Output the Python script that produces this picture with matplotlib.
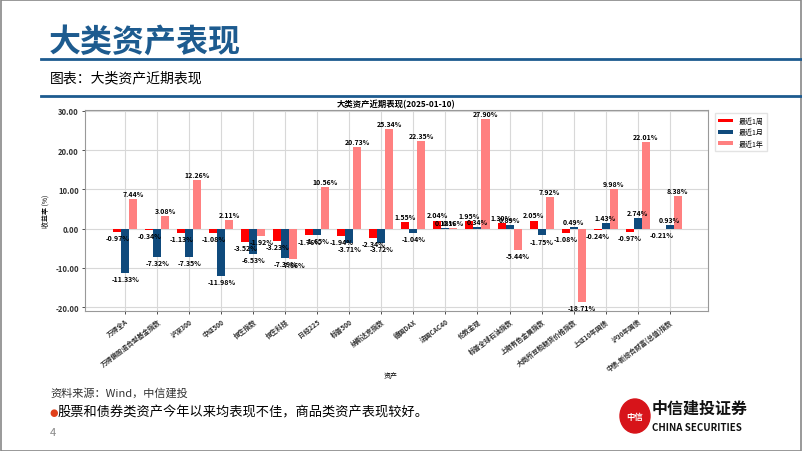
import numpy as np
import matplotlib.pyplot as plt
from matplotlib.patches import Ellipse, Rectangle

plt.rcParams['font.family'] = ['Noto Sans CJK SC', 'DejaVu Sans']
plt.rcParams['axes.unicode_minus'] = False

assets = ['万得全A', '万得偏股混合型基金指数', '沪深300', '中证500', '恒生指数', '恒生科技',
          '日经225', '标普500', '纳斯达克指数', '德国DAX', '法国CAC40', '伦敦金现',
          '标普全球石油指数', '上期有色金属指数', '大商所豆粕期货价格指数', '上证10年国债',
          '沪30年国债', '中债-新综合财富(总值)指数']
week = [-0.97, -0.34, -1.13, -1.08, -3.52, -3.23, -1.76, -1.94, -2.34, 1.55, 2.04, 1.95,
        1.30, 2.05, -1.08, -0.24, -0.97, -0.21]
month = [-11.33, -7.32, -7.35, -11.98, -6.53, -7.39, -1.65, -3.71, -3.72, -1.04, 0.18, 0.34,
         0.89, -1.75, 0.49, 1.43, 2.74, 0.93]
year = [7.44, 3.08, 12.26, 2.11, -1.92, -7.66, 10.56, 20.73, 25.34, 22.35, 0.16, 27.90,
        -5.44, 7.92, -18.71, 9.98, 22.01, 8.38]
series_names = ['最近1周', '最近1月', '最近1年']

W, H = 802, 452
fig = plt.figure(figsize=(W / 100, H / 100), dpi=100)

# slide frame and header
fig.patches.append(Rectangle((0.5 / W, 0.5 / H), 1 - 1.5 / W, 1 - 1.5 / H, transform=fig.transFigure,
                             fill=False, edgecolor='#888888', linewidth=1.2))
fig.text(49 / W, 1 - 43 / H, '大类资产表现', fontsize=23, fontweight='bold', color='#1d5b8f',
         va='center', ha='left')
fig.add_artist(plt.Line2D([41 / W, 1], [1 - 60 / H] * 2, color='#1d5b8f', linewidth=2))
fig.text(50 / W, 1 - 78 / H, '图表：大类资产近期表现', fontsize=10, va='center', ha='left')
fig.add_artist(plt.Line2D([41 / W, 1], [1 - 97 / H] * 2, color='#1d5b8f', linewidth=2))

# chart
ax = fig.add_axes([85 / W, (H - 312) / H, (708 - 85) / W, (312 - 111) / H])
x = np.arange(len(assets))
w = 0.25
colors = ['#ff0000', '#0f4a7c', '#ff8080']
for k, (vals, c, name) in enumerate(zip([week, month, year], colors, series_names)):
    bars = ax.bar(x + (k - 1) * w, vals, w, color=c, label=name, zorder=3)
    for b, v in zip(bars, vals):
        ax.annotate(f'{v:.2f}%', (b.get_x() + b.get_width() / 2, v),
                    xytext=(0, 1.5 if v >= 0 else -1.5), textcoords='offset points',
                    ha='center', va='bottom' if v >= 0 else 'top',
                    fontsize=5, fontweight='bold', zorder=4)

ax.set_xlim(-1.26, 18.2)
ax.set_ylim(-21, 30.2)
ax.set_yticks(np.arange(-20, 31, 10))
ax.set_yticklabels([f'{t:.2f}' for t in np.arange(-20, 31, 10)], fontsize=5.5, fontweight='bold')
ax.set_xticks(x)
ax.set_xticklabels(assets, rotation=37, ha='right', rotation_mode='anchor', fontsize=4.8,
                   fontweight='bold')
ax.tick_params(length=2.5, width=0.6, pad=2, colors='#333333')
ax.grid(True, color='#d8d8d8', linewidth=0.8, zorder=0)
for s in ax.spines.values():
    s.set_color('#999999')
    s.set_linewidth(0.8)
ax.set_title('大类资产近期表现(2025-01-10)', fontsize=6, fontweight='bold', pad=3)
ax.set_ylabel('收益率 (%)', fontsize=5)
ax.set_xlabel('资产', fontsize=5)
ax.xaxis.set_label_coords(0.49, -0.30)
ax.legend(loc='upper left', bbox_to_anchor=(1.005, 1.0), fontsize=5, handlelength=2.2,
          handleheight=0.5, frameon=True, edgecolor='#dddddd', fancybox=False, borderpad=0.5)

# footer
fig.text(50 / W, 1 - 393 / H, '资料来源：Wind，中信建投', fontsize=8, style='italic', color='#333333',
         va='center', ha='left')
fig.text(49 / W, 1 - 413 / H, '●', fontsize=7, color='#e0401a', va='center', ha='left',
         family='DejaVu Sans')
fig.text(58 / W, 1 - 413 / H, '股票和债券类资产今年以来均表现不佳，商品类资产表现较好。', fontsize=9.5,
         va='center', ha='left')
fig.text(50 / W, 1 - 433 / H, '4', fontsize=8, color='#888888', va='center', ha='left')

# logo
fig.patches.append(Ellipse((635 / W, 1 - 417 / H), 30 / W, 34 / H, transform=fig.transFigure,
                           color='#d7141a'))
fig.text(635 / W, 1 - 417 / H, '中信', fontsize=6, color='white', fontweight='bold',
         va='center', ha='center')
fig.text(652 / W, 1 - 409 / H, '中信建投证券', fontsize=11.5, fontweight='bold', color='#111111',
         va='center', ha='left')
fig.text(652 / W, 1 - 428 / H, 'CHINA SECURITIES', fontsize=7, fontweight='bold', color='#111111',
         va='center', ha='left')

fig.savefig('out.png', dpi=100)
